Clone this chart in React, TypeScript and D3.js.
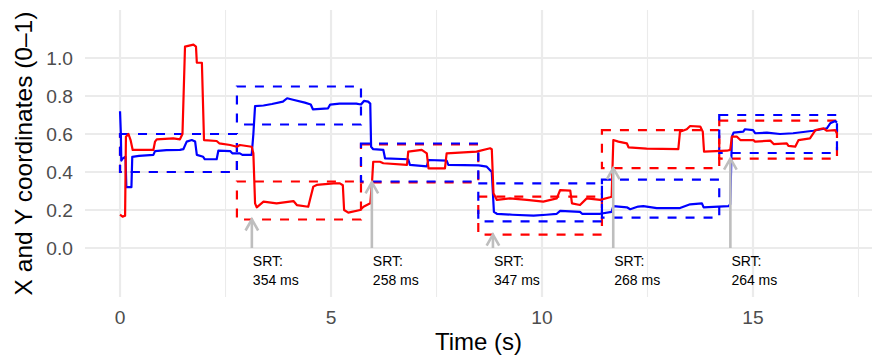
import React from "react";
import * as d3 from "d3";

// ---- data (time in s, value 0-1) ----
const blueTrace: [number, number][] = [
  [0.0, 0.72], [0.02, 0.6], [0.03, 0.46], [0.06, 0.47], [0.13, 0.48], [0.15, 0.32],
  [0.27, 0.32], [0.29, 0.48], [0.45, 0.485], [0.79, 0.49], [0.83, 0.51], [1.1, 0.515],
  [1.42, 0.516], [1.5, 0.52], [1.58, 0.56], [1.7, 0.568], [1.78, 0.56], [1.82, 0.49],
  [1.97, 0.48], [2.01, 0.467], [2.29, 0.467], [2.33, 0.512], [2.61, 0.51], [2.66, 0.498],
  [2.84, 0.498], [2.9, 0.49], [3.12, 0.49], [3.16, 0.6], [3.2, 0.747], [3.4, 0.75],
  [3.6, 0.758], [3.86, 0.77], [3.96, 0.788], [4.1, 0.78], [4.38, 0.765], [4.52, 0.755],
  [4.57, 0.73], [4.93, 0.735], [4.98, 0.755], [5.2, 0.76], [5.6, 0.76], [5.71, 0.755],
  [5.78, 0.774], [5.88, 0.77], [5.93, 0.76], [5.95, 0.533], [6.0, 0.52], [6.24, 0.516],
  [6.28, 0.472], [6.83, 0.467], [6.87, 0.437], [7.27, 0.43], [7.31, 0.463], [7.74, 0.46],
  [7.78, 0.437], [8.5, 0.435], [8.69, 0.428], [8.81, 0.4], [8.86, 0.19], [8.93, 0.18],
  [9.3, 0.175], [9.8, 0.17], [10.1, 0.175], [10.35, 0.18], [10.43, 0.195], [10.9, 0.19],
  [10.95, 0.18], [11.38, 0.18], [11.65, 0.19], [11.69, 0.22], [12.01, 0.214], [12.09, 0.204],
  [12.28, 0.218], [12.4, 0.22], [12.72, 0.21], [13.27, 0.21], [13.51, 0.23], [13.79, 0.235],
  [13.83, 0.214], [14.42, 0.22], [14.46, 0.23], [14.5, 0.586], [14.54, 0.607], [14.77, 0.612],
  [14.81, 0.625], [15.0, 0.62], [15.05, 0.604], [15.33, 0.607], [15.64, 0.6], [15.95, 0.604],
  [16.43, 0.617], [16.75, 0.63], [16.83, 0.656], [16.95, 0.668], [16.99, 0.66],
];

const redTrace: [number, number][] = [
  [0.0, 0.175], [0.06, 0.165], [0.12, 0.17], [0.14, 0.586], [0.2, 0.6], [0.25, 0.568],
  [0.3, 0.516], [0.79, 0.516], [0.83, 0.56], [0.87, 0.572], [1.26, 0.577], [1.42, 0.572],
  [1.48, 0.6], [1.54, 1.06], [1.74, 1.07], [1.8, 1.06], [1.82, 0.975], [1.94, 0.975],
  [1.99, 0.568], [2.29, 0.563], [2.35, 0.551], [2.61, 0.542], [2.77, 0.533], [2.84, 0.542],
  [3.12, 0.533], [3.16, 0.498], [3.2, 0.235], [3.24, 0.214], [3.4, 0.244], [3.71, 0.235],
  [4.11, 0.247], [4.19, 0.226], [4.46, 0.217], [4.5, 0.253], [4.58, 0.323], [4.66, 0.332],
  [5.06, 0.34], [5.21, 0.34], [5.28, 0.33], [5.31, 0.2], [5.41, 0.186], [5.69, 0.2],
  [5.77, 0.217], [5.93, 0.235], [5.97, 0.34], [6.0, 0.454], [6.16, 0.454], [6.24, 0.446],
  [6.8, 0.437], [6.83, 0.507], [7.15, 0.516], [7.27, 0.498], [7.31, 0.419], [7.7, 0.419],
  [7.74, 0.498], [8.45, 0.507], [8.77, 0.525], [8.81, 0.52], [8.85, 0.288], [8.93, 0.253],
  [9.24, 0.261], [9.64, 0.253], [10.03, 0.244], [10.35, 0.261], [10.43, 0.305], [10.67, 0.302],
  [10.71, 0.235], [10.9, 0.226], [11.06, 0.261], [11.38, 0.253], [11.61, 0.267], [11.65, 0.27],
  [11.69, 0.568], [11.81, 0.56], [12.01, 0.551], [12.05, 0.53], [12.48, 0.523], [13.23, 0.52],
  [13.27, 0.612], [13.43, 0.625], [13.51, 0.642], [13.75, 0.639], [13.81, 0.612], [13.84, 0.507],
  [14.38, 0.512], [14.46, 0.516], [14.5, 0.586], [14.62, 0.586], [14.7, 0.568], [15.01, 0.568],
  [15.05, 0.56], [15.41, 0.565], [15.49, 0.547], [15.8, 0.551], [15.84, 0.537], [16.0, 0.533],
  [16.08, 0.568], [16.35, 0.577], [16.48, 0.62], [16.67, 0.63], [16.75, 0.617], [16.95, 0.62],
  [16.99, 0.603],
];

const targetOnsets = [0, 2.77, 5.71, 8.49, 11.42, 14.2];
const trialEnd = 16.99;
const targetRed = [0.5, 0.25, 0.445, 0.17, 0.52, 0.57];
const targetBlue = [0.5, 0.75, 0.45, 0.24, 0.26, 0.6];
const boxHalf = 0.1;
const srtMs = [354, 258, 347, 268, 264];

const xMajor = [0, 5, 10, 15];
const xMinor = [2.5, 7.5, 12.5, 17.5];
const yMajor = [0, 0.2, 0.4, 0.6, 0.8, 1.0];

const W = 872;
const H = 360;
const FONT = "'Liberation Sans', Arial, Helvetica, sans-serif";

export default function App() {
  const x = d3.scaleLinear().domain([-0.83, 17.82]).range([85, 872]);
  const y = d3.scaleLinear().domain([-0.258, 1.2526]).range([297, 10]);
  const [px0, px1] = x.range();
  const [py1, py0] = y.range();
  const line = d3
    .line<[number, number]>()
    .x((d) => x(d[0]))
    .y((d) => y(d[1]));

  const boxes = targetOnsets.map((t0, i) => ({
    t0,
    t1: i < targetOnsets.length - 1 ? targetOnsets[i + 1] : trialEnd,
    red: targetRed[i],
    blue: targetBlue[i],
  }));

  const arrows = srtMs.map((ms, i) => ({
    t: targetOnsets[i + 1] + ms / 1000,
    tip: targetRed[i + 1] - boxHalf,
    ms,
  }));

  const rectFor = (b: { t0: number; t1: number }, c: number, color: string, key: string) => (
    <rect
      key={key}
      x={x(b.t0)}
      y={y(c + boxHalf)}
      width={x(b.t1) - x(b.t0)}
      height={y(c - boxHalf) - y(c + boxHalf)}
      fill="none"
      stroke={color}
      strokeWidth={2.2}
      strokeDasharray="9 9"
    />
  );

  const ah = 11; // arrowhead length along
  const aw = 6.3; // arrowhead half width

  return (
    <svg
      width={W}
      height={H}
      style={{ position: "absolute", left: 0, top: 0, display: "block", background: "#fff" }}
      fontFamily={FONT}
    >
      {/* grid */}
      {xMinor.map((t) => (
        <line key={"xm" + t} x1={x(t)} x2={x(t)} y1={py0} y2={py1} stroke="#EBEBEB" strokeWidth={1.1} />
      ))}
      {xMajor.map((t) => (
        <line key={"xM" + t} x1={x(t)} x2={x(t)} y1={py0} y2={py1} stroke="#EBEBEB" strokeWidth={2.2} />
      ))}
      {yMajor.map((v) => (
        <line key={"yM" + v} x1={px0} x2={px1} y1={y(v)} y2={y(v)} stroke="#EBEBEB" strokeWidth={2.2} />
      ))}

      {/* target boxes */}
      {boxes.map((b, i) => rectFor(b, b.red, "#FF0000", "rb" + i))}
      {boxes.map((b, i) => rectFor(b, b.blue, "#0000FF", "bb" + i))}

      {/* traces */}
      <path d={line(blueTrace) || ""} fill="none" stroke="#0000FF" strokeWidth={2.2} strokeLinejoin="round" />
      <path d={line(redTrace) || ""} fill="none" stroke="#FF0000" strokeWidth={2.2} strokeLinejoin="round" />

      {/* SRT arrows */}
      {arrows.map((a, i) => {
        const ax = x(a.t);
        const ty = y(a.tip);
        return (
          <g key={"ar" + i} stroke="#BEBEBE" strokeWidth={2.6} fill="none">
            <line x1={ax} x2={ax} y1={y(0)} y2={ty} />
            <polyline points={`${ax - aw},${ty + ah} ${ax},${ty} ${ax + aw},${ty + ah}`} />
          </g>
        );
      })}
      {arrows.map((a, i) => {
        const ax = x(a.t);
        return (
          <text key={"tx" + i} x={ax + 1} y={y(0) + 18} fontSize={14} fill="#000">
            <tspan x={ax + 1}>SRT:</tspan>
            <tspan x={ax + 1} dy={19}>{`${a.ms} ms`}</tspan>
          </text>
        );
      })}

      {/* axes labels */}
      {yMajor.map((v) => (
        <text key={"yl" + v} x={73} y={y(v)} dy="0.36em" textAnchor="end" fontSize={19.2} fill="#4D4D4D">
          {v.toFixed(1)}
        </text>
      ))}
      {xMajor.map((t) => (
        <text key={"xl" + t} x={x(t)} y={324} textAnchor="middle" fontSize={19.2} fill="#4D4D4D">
          {t}
        </text>
      ))}
      <text x={(px0 + px1) / 2} y={350} textAnchor="middle" fontSize={24} fill="#000">
        Time (s)
      </text>
      <text
        transform={`translate(32, ${(py0 + py1) / 2}) rotate(-90)`}
        textAnchor="middle"
        fontSize={24.5}
        fill="#000"
      >
        X and Y coordinates (0–1)
      </text>
    </svg>
  );
}
